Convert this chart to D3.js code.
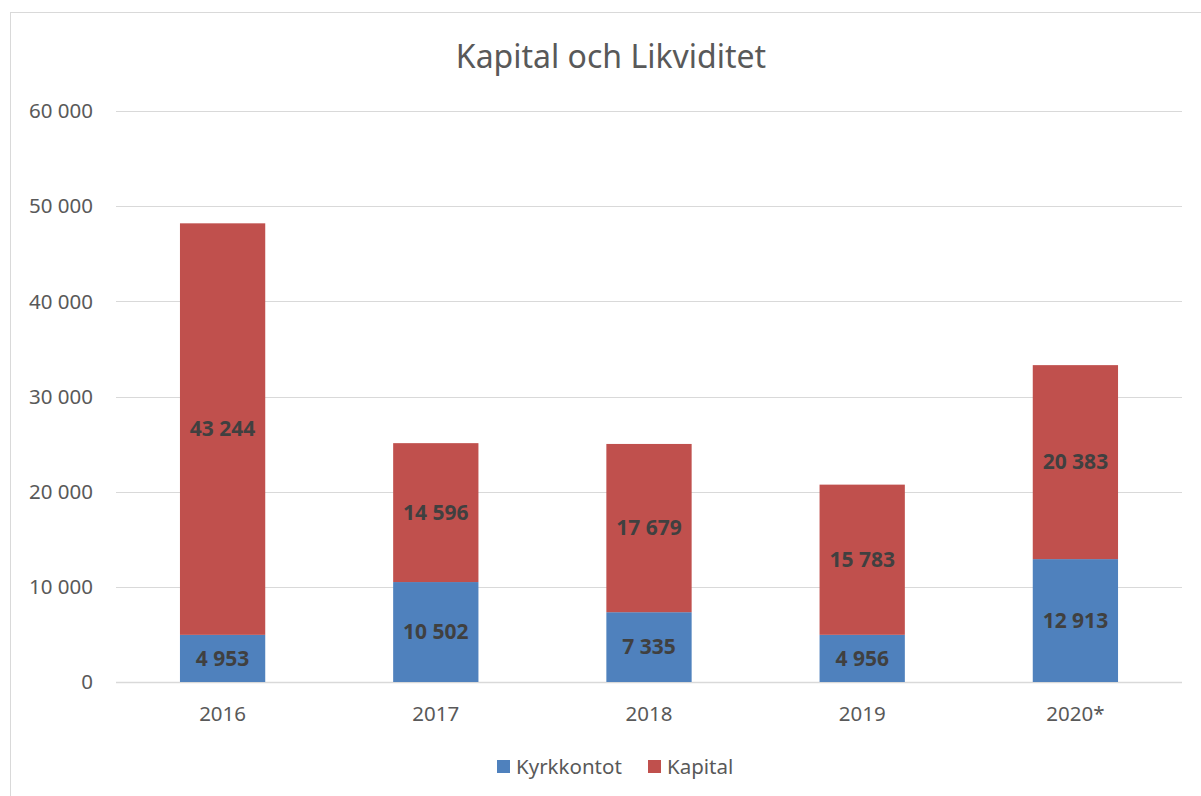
<!DOCTYPE html>
<html>
<head>
<meta charset="utf-8">
<script src="https://cdn.jsdelivr.net/npm/d3@7"></script>
<style>
  body { margin: 0; background: #fff; }
  svg { display: block; }
</style>
</head>
<body>
<div id="chart"></div>
<script>
const years = ["2016", "2017", "2018", "2019", "2020*"];
const kyrkkontot = [4953, 10502, 7335, 4956, 12913];
const kapital = [43244, 14596, 17679, 15783, 20383];
const seriesNames = ["Kyrkkontot", "Kapital"];
const seriesColors = ["#4f81bd", "#c0504d"];
const yTicks = [0, 10000, 20000, 30000, 40000, 50000, 60000];

const width = 1201, height = 796;
const margin = {top: 111, right: 19, bottom: 114, left: 116};
const font = "'Noto Sans', 'Open Sans', sans-serif";

const rows = years.map((y, i) => ({year: y, Kyrkkontot: kyrkkontot[i], Kapital: kapital[i]}));
const stacked = d3.stack().keys(seriesNames)(rows);

const svg = d3.select("#chart").append("svg")
    .attr("width", width)
    .attr("height", height)
    .style("font-family", font);

// chart frame
svg.append("rect")
    .attr("x", 10.5).attr("y", 12.5)
    .attr("width", width + 20).attr("height", height + 20)
    .attr("fill", "none")
    .attr("stroke", "#d9d9d9");

const x = d3.scaleBand()
    .domain(years)
    .range([margin.left, width - margin.right])
    .padding(0);

const y = d3.scaleLinear()
    .domain([0, 60000])
    .range([height - margin.bottom, margin.top]);

const fmt = v => d3.format(",d")(v).replace(/,/g, " ");

// gridlines
svg.append("g")
    .selectAll("line")
    .data(yTicks)
    .join("line")
        .attr("x1", margin.left).attr("x2", width - margin.right)
        .attr("y1", d => Math.round(y(d)) + 0.5)
        .attr("y2", d => Math.round(y(d)) + 0.5)
        .attr("stroke", "#d9d9d9")
        .attr("stroke-width", d => d === 0 ? 1.5 : 1);

// y axis labels
svg.append("g")
    .selectAll("text")
    .data(yTicks)
    .join("text")
        .attr("x", 93)
        .attr("y", d => y(d))
        .attr("dy", "0.35em")
        .attr("text-anchor", "end")
        .attr("fill", "#595959")
        .style("font-size", "20.5px")
        .text(d => fmt(d));

// bars
const barW = x.bandwidth() * 0.4;
const layer = svg.append("g")
    .selectAll("g")
    .data(stacked)
    .join("g")
        .attr("fill", (d, i) => seriesColors[i]);

layer.selectAll("rect")
    .data(d => d)
    .join("rect")
        .attr("x", d => x(d.data.year) + (x.bandwidth() - barW) / 2)
        .attr("y", d => y(d[1]))
        .attr("width", barW)
        .attr("height", d => y(d[0]) - y(d[1]));

// value labels
layer.selectAll("text")
    .data(d => d)
    .join("text")
        .attr("x", d => x(d.data.year) + x.bandwidth() / 2)
        .attr("y", d => (y(d[0]) + y(d[1])) / 2)
        .attr("dy", "0.35em")
        .attr("text-anchor", "middle")
        .attr("fill", "#404040")
        .style("font-size", "21px")
        .style("font-weight", "bold")
        .text(d => fmt(d[1] - d[0]));

// x axis labels
svg.append("g")
    .selectAll("text")
    .data(years)
    .join("text")
        .attr("x", d => x(d) + x.bandwidth() / 2)
        .attr("y", 714)
        .attr("dy", "0.35em")
        .attr("text-anchor", "middle")
        .attr("fill", "#595959")
        .style("font-size", "20.5px")
        .text(d => d);

// title
svg.append("text")
    .attr("x", 611)
    .attr("y", 57)
    .attr("dy", "0.35em")
    .attr("text-anchor", "middle")
    .attr("fill", "#595959")
    .style("font-size", "32px")
    .text("Kapital och Likviditet");

// legend
const legendX = [497, 648];
const legend = svg.append("g")
    .selectAll("g")
    .data(seriesNames)
    .join("g")
        .attr("transform", (d, i) => `translate(${legendX[i]},767)`);

legend.append("rect")
    .attr("x", 0).attr("y", -7)
    .attr("width", 13).attr("height", 13)
    .attr("fill", (d, i) => seriesColors[i]);

legend.append("text")
    .attr("x", 19)
    .attr("y", 0)
    .attr("dy", "0.35em")
    .attr("fill", "#595959")
    .style("font-size", "20.5px")
    .text(d => d);
</script>
</body>
</html>
